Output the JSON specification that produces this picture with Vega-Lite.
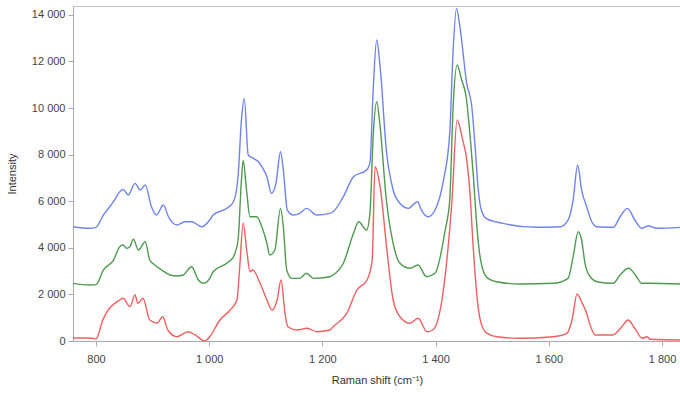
{
  "$schema": "https://vega.github.io/schema/vega-lite/v6.json",
  "width": 608,
  "height": 335,
  "autosize": "none",
  "padding": {"left": 73, "top": 6, "right": 0, "bottom": 53},
  "background": "white",
  "config": {
    "view": {"stroke": "#c4c4c4", "strokeWidth": 1},
    "axis": {"labelFont": "Liberation Sans", "titleFont": "Liberation Sans", "labelFontSize": 11, "titleFontSize": 11, "titleFontWeight": "normal", "labelColor": "#444", "titleColor": "#333", "domainColor": "#aaa", "tickColor": "#aaa", "grid": false}
  },
  "datasets": {
    "spectra": [
      {"s":"blue","x":759,"y":4906},{"s":"blue","x":789,"y":4837},{"s":"blue","x":800,"y":4880},{"s":"blue","x":813,"y":5408},{"s":"blue","x":831,"y":5979},{"s":"blue","x":842,"y":6408},{"s":"blue","x":848,"y":6510},{"s":"blue","x":857,"y":6266},{"s":"blue","x":869,"y":6768},{"s":"blue","x":878,"y":6481},{"s":"blue","x":887,"y":6695},{"s":"blue","x":898,"y":5764},{"s":"blue","x":907,"y":5408},{"s":"blue","x":919,"y":5837},{"s":"blue","x":928,"y":5335},{"s":"blue","x":943,"y":4979},{"s":"blue","x":957,"y":5120},{"s":"blue","x":969,"y":5120},{"s":"blue","x":987,"y":4906},{"s":"blue","x":1001,"y":5193},{"s":"blue","x":1007,"y":5408},{"s":"blue","x":1031,"y":5695},{"s":"blue","x":1043,"y":5979},{"s":"blue","x":1051,"y":7052},{"s":"blue","x":1057,"y":9485},{"s":"blue","x":1062,"y":10416},{"s":"blue","x":1069,"y":7983},{"s":"blue","x":1078,"y":7841},{"s":"blue","x":1087,"y":7695},{"s":"blue","x":1093,"y":7481},{"s":"blue","x":1102,"y":7052},{"s":"blue","x":1110,"y":6339},{"s":"blue","x":1118,"y":6768},{"s":"blue","x":1126,"y":8124},{"s":"blue","x":1131,"y":7339},{"s":"blue","x":1138,"y":5622},{"s":"blue","x":1149,"y":5408},{"s":"blue","x":1160,"y":5481},{"s":"blue","x":1172,"y":5695},{"s":"blue","x":1190,"y":5408},{"s":"blue","x":1213,"y":5481},{"s":"blue","x":1219,"y":5550},{"s":"blue","x":1237,"y":6193},{"s":"blue","x":1255,"y":7052},{"s":"blue","x":1278,"y":7339},{"s":"blue","x":1284,"y":7627},{"s":"blue","x":1290,"y":10914},{"s":"blue","x":1296,"y":12918},{"s":"blue","x":1302,"y":11773},{"s":"blue","x":1313,"y":8197},{"s":"blue","x":1325,"y":6481},{"s":"blue","x":1337,"y":5910},{"s":"blue","x":1352,"y":5695},{"s":"blue","x":1368,"y":5979},{"s":"blue","x":1375,"y":5622},{"s":"blue","x":1387,"y":5335},{"s":"blue","x":1399,"y":5622},{"s":"blue","x":1414,"y":6910},{"s":"blue","x":1425,"y":8914},{"s":"blue","x":1431,"y":12489},{"s":"blue","x":1437,"y":14279},{"s":"blue","x":1443,"y":13490},{"s":"blue","x":1455,"y":11060},{"s":"blue","x":1464,"y":10056},{"s":"blue","x":1470,"y":8300},{"s":"blue","x":1475,"y":6600},{"s":"blue","x":1480,"y":5700},{"s":"blue","x":1490,"y":5250},{"s":"blue","x":1519,"y":5050},{"s":"blue","x":1578,"y":4880},{"s":"blue","x":1620,"y":4906},{"s":"blue","x":1634,"y":5193},{"s":"blue","x":1643,"y":6052},{"s":"blue","x":1651,"y":7554},{"s":"blue","x":1658,"y":6481},{"s":"blue","x":1667,"y":5764},{"s":"blue","x":1676,"y":5120},{"s":"blue","x":1685,"y":4906},{"s":"blue","x":1714,"y":4880},{"s":"blue","x":1726,"y":5335},{"s":"blue","x":1739,"y":5695},{"s":"blue","x":1752,"y":5193},{"s":"blue","x":1764,"y":4837},{"s":"blue","x":1776,"y":4935},{"s":"blue","x":1791,"y":4837},{"s":"blue","x":1833,"y":4880},

      {"s":"green","x":759,"y":2476},{"s":"green","x":789,"y":2403},{"s":"green","x":800,"y":2420},{"s":"green","x":813,"y":3047},{"s":"green","x":831,"y":3476},{"s":"green","x":842,"y":4047},{"s":"green","x":848,"y":4120},{"s":"green","x":854,"y":3978},{"s":"green","x":860,"y":4047},{"s":"green","x":866,"y":4365},{"s":"green","x":875,"y":3906},{"s":"green","x":887,"y":4262},{"s":"green","x":895,"y":3476},{"s":"green","x":904,"y":3262},{"s":"green","x":916,"y":3047},{"s":"green","x":931,"y":2833},{"s":"green","x":943,"y":2790},{"s":"green","x":954,"y":2833},{"s":"green","x":969,"y":3190},{"s":"green","x":981,"y":2618},{"s":"green","x":990,"y":2476},{"s":"green","x":1001,"y":2690},{"s":"green","x":1007,"y":2974},{"s":"green","x":1031,"y":3335},{"s":"green","x":1043,"y":3618},{"s":"green","x":1051,"y":4335},{"s":"green","x":1057,"y":6910},{"s":"green","x":1060,"y":7750},{"s":"green","x":1066,"y":6481},{"s":"green","x":1072,"y":5335},{"s":"green","x":1084,"y":5335},{"s":"green","x":1093,"y":4906},{"s":"green","x":1102,"y":4193},{"s":"green","x":1107,"y":3691},{"s":"green","x":1116,"y":3906},{"s":"green","x":1126,"y":5695},{"s":"green","x":1131,"y":4906},{"s":"green","x":1137,"y":3047},{"s":"green","x":1146,"y":2690},{"s":"green","x":1160,"y":2690},{"s":"green","x":1172,"y":2906},{"s":"green","x":1184,"y":2690},{"s":"green","x":1213,"y":2760},{"s":"green","x":1219,"y":2833},{"s":"green","x":1237,"y":3335},{"s":"green","x":1255,"y":4622},{"s":"green","x":1264,"y":5120},{"s":"green","x":1278,"y":4764},{"s":"green","x":1284,"y":5481},{"s":"green","x":1290,"y":8914},{"s":"green","x":1296,"y":10270},{"s":"green","x":1302,"y":9197},{"s":"green","x":1313,"y":6052},{"s":"green","x":1325,"y":4193},{"s":"green","x":1337,"y":3335},{"s":"green","x":1355,"y":3120},{"s":"green","x":1369,"y":3262},{"s":"green","x":1384,"y":2760},{"s":"green","x":1399,"y":2905},{"s":"green","x":1417,"y":4764},{"s":"green","x":1425,"y":6052},{"s":"green","x":1431,"y":10056},{"s":"green","x":1438,"y":11845},{"s":"green","x":1446,"y":11202},{"s":"green","x":1454,"y":10485},{"s":"green","x":1461,"y":8800},{"s":"green","x":1467,"y":7000},{"s":"green","x":1472,"y":5200},{"s":"green","x":1477,"y":3900},{"s":"green","x":1483,"y":3100},{"s":"green","x":1492,"y":2700},{"s":"green","x":1508,"y":2545},{"s":"green","x":1549,"y":2446},{"s":"green","x":1608,"y":2476},{"s":"green","x":1634,"y":2690},{"s":"green","x":1643,"y":3618},{"s":"green","x":1652,"y":4690},{"s":"green","x":1658,"y":4335},{"s":"green","x":1664,"y":3335},{"s":"green","x":1673,"y":2760},{"s":"green","x":1685,"y":2545},{"s":"green","x":1714,"y":2476},{"s":"green","x":1726,"y":2833},{"s":"green","x":1741,"y":3120},{"s":"green","x":1755,"y":2760},{"s":"green","x":1764,"y":2476},{"s":"green","x":1775,"y":2476},{"s":"green","x":1833,"y":2446},

      {"s":"red","x":759,"y":129},{"s":"red","x":781,"y":129},{"s":"red","x":793,"y":116},{"s":"red","x":800,"y":86},{"s":"red","x":812,"y":901},{"s":"red","x":842,"y":1760},{"s":"red","x":848,"y":1833},{"s":"red","x":860,"y":1472},{"s":"red","x":869,"y":1974},{"s":"red","x":874,"y":1618},{"s":"red","x":883,"y":1833},{"s":"red","x":895,"y":901},{"s":"red","x":908,"y":773},{"s":"red","x":918,"y":1043},{"s":"red","x":927,"y":472},{"s":"red","x":943,"y":185},{"s":"red","x":963,"y":399},{"s":"red","x":975,"y":258},{"s":"red","x":993,"y":0},{"s":"red","x":1001,"y":185},{"s":"red","x":1019,"y":901},{"s":"red","x":1037,"y":1330},{"s":"red","x":1049,"y":1760},{"s":"red","x":1054,"y":3189},{"s":"red","x":1060,"y":5052},{"s":"red","x":1067,"y":3764},{"s":"red","x":1072,"y":2974},{"s":"red","x":1077,"y":3047},{"s":"red","x":1090,"y":2476},{"s":"red","x":1102,"y":1760},{"s":"red","x":1111,"y":1330},{"s":"red","x":1120,"y":1760},{"s":"red","x":1127,"y":2618},{"s":"red","x":1134,"y":1189},{"s":"red","x":1139,"y":614},{"s":"red","x":1155,"y":472},{"s":"red","x":1173,"y":545},{"s":"red","x":1190,"y":399},{"s":"red","x":1213,"y":472},{"s":"red","x":1219,"y":614},{"s":"red","x":1243,"y":1189},{"s":"red","x":1261,"y":2189},{"s":"red","x":1279,"y":2618},{"s":"red","x":1288,"y":3476},{"s":"red","x":1293,"y":7481},{"s":"red","x":1302,"y":6622},{"s":"red","x":1314,"y":3906},{"s":"red","x":1325,"y":1760},{"s":"red","x":1337,"y":1043},{"s":"red","x":1355,"y":760},{"s":"red","x":1369,"y":974},{"s":"red","x":1385,"y":399},{"s":"red","x":1395,"y":472},{"s":"red","x":1413,"y":2047},{"s":"red","x":1429,"y":6052},{"s":"red","x":1438,"y":9485},{"s":"red","x":1448,"y":8627},{"s":"red","x":1455,"y":7800},{"s":"red","x":1461,"y":6300},{"s":"red","x":1466,"y":4200},{"s":"red","x":1470,"y":2800},{"s":"red","x":1475,"y":1500},{"s":"red","x":1480,"y":800},{"s":"red","x":1490,"y":350},{"s":"red","x":1508,"y":185},{"s":"red","x":1549,"y":116},{"s":"red","x":1607,"y":185},{"s":"red","x":1632,"y":330},{"s":"red","x":1641,"y":901},{"s":"red","x":1650,"y":2017},{"s":"red","x":1659,"y":1618},{"s":"red","x":1666,"y":1258},{"s":"red","x":1673,"y":687},{"s":"red","x":1682,"y":258},{"s":"red","x":1713,"y":258},{"s":"red","x":1729,"y":614},{"s":"red","x":1740,"y":901},{"s":"red","x":1752,"y":545},{"s":"red","x":1765,"y":116},{"s":"red","x":1774,"y":185},{"s":"red","x":1779,"y":73},{"s":"red","x":1833,"y":43}
    ]
  },
  "data": {"name": "spectra"},
  "mark": {"type": "line", "interpolate": "monotone", "strokeWidth": 1.4, "clip": true},
  "encoding": {
    "x": {
      "field": "x", "type": "quantitative",
      "scale": {"domain": [759.4, 1833.6], "nice": false, "zero": false},
      "axis": {"values": [800, 1000, 1200, 1400, 1600, 1800], "labelExpr": "replace(format(datum.value, ','), ',', ' ')", "title": "Raman shift (cm⁻¹)", "tickSize": 5, "labelPadding": 7, "titlePadding": 10}
    },
    "y": {
      "field": "y", "type": "quantitative",
      "scale": {"domain": [0, 14380], "nice": false},
      "axis": {"values": [0, 2000, 4000, 6000, 8000, 10000, 12000, 14000], "labelExpr": "replace(format(datum.value, ','), ',', ' ')", "title": "Intensity", "tickSize": 5, "labelPadding": 3, "titlePadding": 14}
    },
    "color": {
      "field": "s", "type": "nominal",
      "scale": {"domain": ["blue", "green", "red"], "range": ["#7083ec", "#4f9a50", "#ef5f62"]},
      "legend": null
    },
    "detail": {"field": "s"}
  }
}
